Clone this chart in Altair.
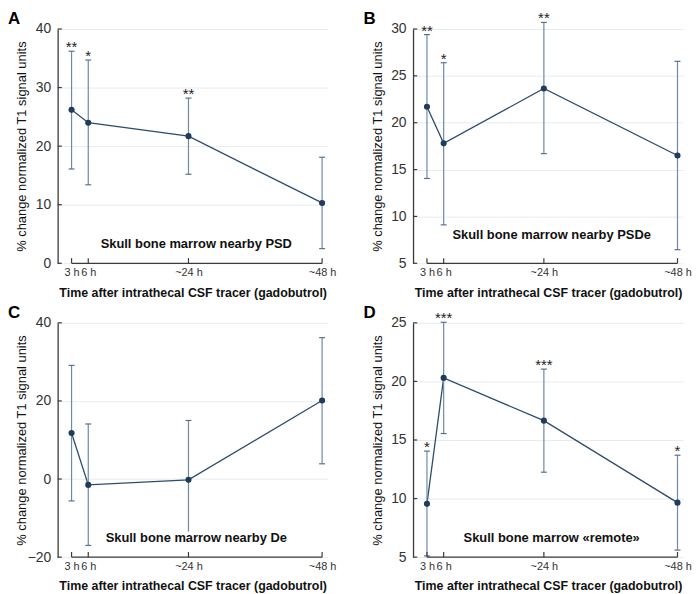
import altair as alt
import pandas as pd

hours = [3, 6, 24, 48]
tick_labels = ["3 h", "6 h", "~24 h", "~48 h"]

a_mean = [26.2, 24.0, 21.7, 10.3]
a_hi = [36.2, 34.7, 28.2, 18.1]
a_lo = [16.1, 13.4, 15.2, 2.5]
a_stars = ["**", "*", "**", ""]

b_mean = [21.7, 17.8, 23.65, 16.5]
b_hi = [29.4, 26.4, 30.7, 26.55]
b_lo = [14.05, 9.1, 16.7, 6.45]
b_stars = ["**", "*", "**", ""]

c_mean = [11.8, -1.5, -0.2, 20.1]
c_hi = [29.1, 14.1, 15.0, 36.2]
c_lo = [-5.6, -17.0, -15.4, 3.9]
c_stars = ["", "", "", ""]

d_mean = [9.55, 20.3, 16.65, 9.65]
d_hi = [14.05, 25.05, 21.05, 13.7]
d_lo = [5.1, 15.55, 12.25, 5.6]
d_stars = ["*", "***", "***", "*"]

letters = ["A", "B", "C", "D"]
region_names = [
    "Skull bone marrow nearby PSD",
    "Skull bone marrow nearby PSDe",
    "Skull bone marrow nearby De",
    "Skull bone marrow \u00abremote\u00bb",
]
y_domains = [[0, 40], [5, 30], [-20, 40], [5, 25]]
y_ticks = [[0, 10, 20, 30, 40], [5, 10, 15, 20, 25, 30], [-20, 0, 20, 40], [5, 10, 15, 20, 25]]
name_y = [3.3, 8.0, -15.05, 6.65]
name_x = 25.4

X_TITLE = "Time after intrathecal CSF tracer (gadobutrol)"
Y_TITLE = "% change normalized T1 signal units"
X_DOMAIN = [0.5, 49]
W, H = 272, 236

# panel letter placement (pixels left of / above the plot corner)
LETTER_DX, LETTER_DY = 50, 5

LINE_C = "#2c4c6d"
PT_C = "#1f3c5c"
ERR_C = "#6e8aa5"
CAP_C = "#56718c"
AX_C = "#3a3a3a"
FONT = "Liberation Sans"

label_expr = " : ".join(
    f"datum.value == {h} ? '{t}'" for h, t in zip(hours, tick_labels)
) + " : ''"


def panel(letter, name, mean, hi, lo, stars, ydom, yt, ny):
    df = pd.DataFrame({"hours": hours, "mean": mean, "hi": hi, "lo": lo, "stars": stars})
    xs = alt.Scale(domain=X_DOMAIN, nice=False, zero=False)
    ys = alt.Scale(domain=ydom, nice=False, zero=False)
    xax = alt.Axis(
        values=hours,
        labelExpr=label_expr,
        title=X_TITLE,
        grid=False,
        domain=False,
        ticks=False,
        labelPadding=3,
        labelFontSize=11,
        labelColor="#333333",
        titleFontSize=12.5,
        titleFontWeight="bold",
        titleColor="#111111",
        titlePadding=9,
        labelFlush=False,
    )
    yax = alt.Axis(
        values=yt,
        title=Y_TITLE,
        grid=True,
        gridColor="#e5ecf1",
        gridWidth=1,
        domain=True,
        domainColor=AX_C,
        domainWidth=1.3,
        ticks=False,
        labelPadding=7,
        labelFontSize=14,
        labelColor="#333333",
        titleFontSize=13,
        titleFontWeight="normal",
        titleColor="#111111",
        titleX=-29,
    )

    def X(f):
        return alt.X(f, scale=xs, axis=xax)

    def Y(f):
        return alt.Y(f, scale=ys, axis=yax)

    base = alt.Chart(df)
    span = ydom[1] - ydom[0]
    xspan = X_DOMAIN[1] - X_DOMAIN[0]

    # y axis tick marks pointing inward
    ytdf = pd.DataFrame({"v": yt, "x0": [X_DOMAIN[0]] * len(yt), "x1": [X_DOMAIN[0] + 0.75] * len(yt)})
    ytick = alt.Chart(ytdf).mark_rule(color=AX_C, strokeWidth=1.2).encode(
        x=X("x0:Q"), x2="x1:Q", y=Y("v:Q")
    )
    # x axis line from first to last time point, with upward ticks
    xl = alt.Chart(pd.DataFrame({"a": [hours[0]], "b": [hours[-1]], "y": [ydom[0]]})).mark_rule(
        color=AX_C, strokeWidth=1.2
    ).encode(x=X("a:Q"), x2="b:Q", y=Y("y:Q"))
    xtdf = pd.DataFrame({"h": hours, "y0": [ydom[0]] * 4, "y1": [ydom[0] + span * 0.022] * 4})
    xt = alt.Chart(xtdf).mark_rule(color=AX_C, strokeWidth=1.2).encode(
        x=X("h:Q"), y=Y("y0:Q"), y2="y1:Q"
    )

    err = base.mark_rule(color=ERR_C, strokeWidth=1.2).encode(x=X("hours:Q"), y=Y("lo:Q"), y2="hi:Q")
    cap_hi = base.mark_tick(orient="horizontal", size=6, thickness=1.2, color=CAP_C, opacity=1).encode(
        x=X("hours:Q"), y=Y("hi:Q")
    )
    cap_lo = base.mark_tick(orient="horizontal", size=6, thickness=1.2, color=CAP_C, opacity=1).encode(
        x=X("hours:Q"), y=Y("lo:Q")
    )
    line = base.mark_line(color=LINE_C, strokeWidth=1.3).encode(x=X("hours:Q"), y=Y("mean:Q"))
    pts = base.mark_circle(size=38, color=PT_C, opacity=1).encode(x=X("hours:Q"), y=Y("mean:Q"))
    star = base.mark_text(fontSize=15, baseline="alphabetic", dy=1, color="#222222").encode(
        x=X("hours:Q"), y=Y("hi:Q"), text="stars:N"
    )
    ndf = pd.DataFrame({"x": [name_x], "y": [ny], "t": [name]})
    halo = alt.Chart(ndf).mark_text(
        fontSize=13, fontWeight="bold", stroke="white", strokeWidth=7, fill="white", baseline="middle"
    ).encode(x=X("x:Q"), y=Y("y:Q"), text="t:N")
    ntxt = alt.Chart(ndf).mark_text(
        fontSize=13, fontWeight="bold", color="#111111", baseline="middle"
    ).encode(x=X("x:Q"), y=Y("y:Q"), text="t:N")

    ldf = pd.DataFrame({
        "x": [X_DOMAIN[0] - LETTER_DX * xspan / W],
        "y": [ydom[1] + LETTER_DY * span / H],
        "t": [letter],
    })
    ltxt = alt.Chart(ldf).mark_text(
        fontSize=17, fontWeight="bold", color="#000000", align="left", baseline="alphabetic"
    ).encode(x=X("x:Q"), y=Y("y:Q"), text="t:N")

    return alt.layer(line, err, cap_hi, cap_lo, pts, star, ytick, xl, xt, halo, ntxt, ltxt).properties(
        width=W,
        height=H,
    )


series = [
    (a_mean, a_hi, a_lo, a_stars),
    (b_mean, b_hi, b_lo, b_stars),
    (c_mean, c_hi, c_lo, c_stars),
    (d_mean, d_hi, d_lo, d_stars),
]
charts = [
    panel(letters[i], region_names[i], *series[i], y_domains[i], y_ticks[i], name_y[i])
    for i in range(4)
]

chart = alt.vconcat(
    alt.hconcat(charts[0], charts[1], spacing=27),
    alt.hconcat(charts[2], charts[3], spacing=27),
    spacing=5,
).properties(
    padding={"left": 0, "top": 0, "right": 0, "bottom": 0}
).configure(font=FONT).configure_view(stroke=None)

chart.save("out.html", embed_options={"renderer": "svg", "actions": False})
